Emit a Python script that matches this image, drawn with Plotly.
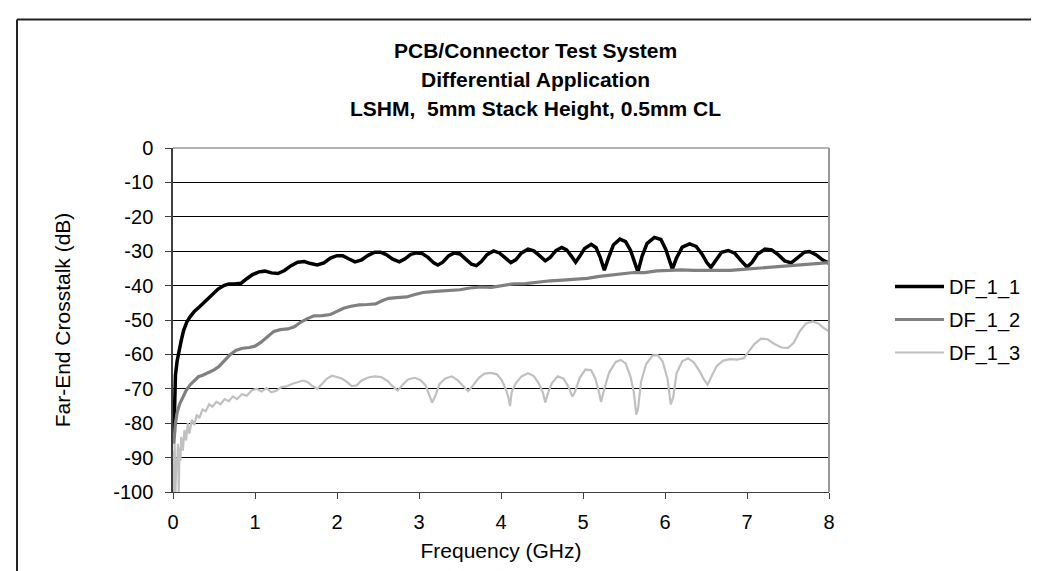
import plotly.graph_objects as go

# ---------------- data ----------------
df11_f = [0.01, 0.02, 0.03, 0.05, 0.07, 0.10, 0.13, 0.17, 0.21, 0.26, 0.33, 0.40, 0.48, 0.55,
          0.62, 0.68, 0.75, 0.83, 0.90, 0.97, 1.05, 1.12, 1.20, 1.28, 1.36, 1.44, 1.52, 1.60,
          1.68, 1.76, 1.84, 1.92, 2.00, 2.07, 2.14, 2.22, 2.30, 2.38, 2.46, 2.53, 2.60, 2.68,
          2.76, 2.83, 2.90, 2.97, 3.04, 3.11, 3.18, 3.23, 3.29, 3.36, 3.43, 3.50, 3.57, 3.64,
          3.70, 3.76, 3.83, 3.91, 3.98, 4.05, 4.12, 4.18, 4.25, 4.33, 4.40, 4.47, 4.54, 4.60,
          4.67, 4.74, 4.80, 4.86, 4.91, 4.96, 5.02, 5.10, 5.16, 5.21, 5.26, 5.31, 5.37, 5.45,
          5.52, 5.58, 5.63, 5.67, 5.72, 5.78, 5.87, 5.95, 6.01, 6.06, 6.09, 6.14, 6.21, 6.30,
          6.38, 6.45, 6.51, 6.56, 6.62, 6.69, 6.77, 6.85, 6.93, 7.00, 7.06, 7.13, 7.22, 7.30,
          7.38, 7.46, 7.54, 7.62, 7.70, 7.76, 7.84, 7.92, 8.00]
df11_db = [-84, -72, -66, -62, -59, -56, -53, -50.5, -49, -47.5, -46, -44.5, -42.5, -41,
           -40, -39.5, -39.5, -39.3, -38, -36.8, -36, -35.8, -36.3, -36.5, -35.6, -34.2, -33.2, -33,
           -33.6, -34, -33.4, -32, -31.3, -31.3, -32.2, -33.1, -32.5, -31.2, -30.3, -30.3, -31, -32.3,
           -33.1, -32.2, -30.9, -30.5, -30.7, -31.8, -33.4, -34, -33.2, -31.4, -30.5, -30.8, -32.3, -33.8,
           -34.2, -33, -31, -29.9, -30.5, -32, -33.3, -32.5, -30.5, -29.4, -29.9, -31.3, -32.8, -31.8,
           -29.8, -28.9, -29.6, -31.5, -33.2, -31.5, -29.2, -28, -29, -31.8, -35.5, -32, -28.2, -26.5,
           -27.2, -29.8, -33.5, -36, -31.5, -27.8, -26, -26.6, -29.5, -33, -35.2, -32, -28.8, -27.9,
           -28.6, -30.8, -33.3, -34.7, -32.6, -30.3, -29.8, -30.6, -32.8, -34.6, -33.3, -30.8, -29.4, -29.6,
           -31, -32.8, -33.4, -31.8, -30.3, -30.1, -31, -32.5, -33.5]

df12_f = [0.01, 0.03, 0.05, 0.08, 0.12, 0.16, 0.21, 0.26, 0.31, 0.37, 0.43, 0.50, 0.56, 0.63,
          0.70, 0.77, 0.85, 0.93, 1.00, 1.07, 1.15, 1.23, 1.31, 1.40, 1.48, 1.56, 1.64, 1.72,
          1.82, 1.92, 2.00, 2.08, 2.17, 2.27, 2.37, 2.47, 2.55, 2.63, 2.73, 2.85, 2.95, 3.05,
          3.20, 3.35, 3.50, 3.62, 3.75, 3.88, 4.00, 4.15, 4.30, 4.45, 4.60, 4.75, 4.90, 5.05,
          5.20, 5.35, 5.50, 5.62, 5.75, 5.90, 6.05, 6.20, 6.35, 6.50, 6.65, 6.80, 6.95, 7.10,
          7.25, 7.40, 7.55, 7.70, 7.85, 8.00]
df12_db = [-86, -80, -77, -74.5, -72.5, -70.5, -68.8, -67.5, -66.5, -66, -65.3, -64.5, -63.5, -61.6,
           -60, -58.8, -58.2, -58, -57.6, -56.5, -54.8, -53.3, -52.8, -52.6, -52, -50.6, -49.6, -48.8,
           -48.7, -48.4, -47.5, -46.6, -46, -45.6, -45.5, -45.3, -44.4, -43.7, -43.5, -43.3, -42.6, -42,
           -41.7, -41.5, -41.2, -40.7, -40.4, -40.5, -40.1, -39.5, -39.4, -38.9, -38.6, -38.4, -38.1, -37.9,
           -37.3, -36.9, -36.5, -36.2, -36.2, -35.7, -35.6, -35.4, -35.6, -35.6, -35.8, -35.6, -35.3, -35,
           -34.8, -34.4, -34, -33.7, -33.6, -33.3]

df13_f = [0.005, 0.01, 0.015, 0.02, 0.03, 0.04, 0.05, 0.06, 0.07, 0.08, 0.09, 0.10, 0.12, 0.14,
          0.16, 0.18, 0.20, 0.23, 0.26, 0.29, 0.32, 0.36, 0.40, 0.44, 0.48, 0.53, 0.58, 0.63,
          0.68, 0.73, 0.78, 0.84, 0.90, 0.96, 1.02, 1.08, 1.14, 1.20, 1.26, 1.32, 1.38, 1.45,
          1.52, 1.58, 1.64, 1.70, 1.76, 1.82, 1.88, 1.94, 2.00, 2.06, 2.12, 2.18, 2.24, 2.30,
          2.38, 2.46, 2.54, 2.62, 2.68, 2.74, 2.80, 2.87, 2.95, 3.02, 3.08, 3.13, 3.16, 3.20,
          3.25, 3.32, 3.40, 3.47, 3.54, 3.60, 3.66, 3.73, 3.80, 3.88, 3.95, 4.01, 4.06, 4.09,
          4.11, 4.13, 4.18, 4.25, 4.33, 4.40, 4.46, 4.51, 4.54, 4.57, 4.62, 4.69, 4.76, 4.82,
          4.87, 4.90, 4.96, 5.03, 5.10, 5.15, 5.19, 5.22, 5.26, 5.32, 5.40, 5.46, 5.52, 5.58,
          5.62, 5.65, 5.67, 5.71, 5.77, 5.85, 5.91, 5.97, 6.03, 6.07, 6.10, 6.14, 6.21, 6.28,
          6.35, 6.42, 6.48, 6.52, 6.57, 6.63, 6.71, 6.80, 6.88, 6.96, 7.02, 7.09, 7.17, 7.25,
          7.33, 7.42, 7.50, 7.57, 7.64, 7.72, 7.80, 7.87, 7.94, 8.00]
df13_db = [-100, -88, -97, -86, -100, -90, -93, -86, -100, -87, -91, -84, -88, -82,
           -85, -80, -83, -79, -80.5, -77.5, -78.5, -76, -76.5, -74.5, -75.2, -73.8, -74.5, -73,
           -73.6, -72.2, -73, -71.6, -72, -70.5, -70, -70.8, -69.8, -71, -70.6, -69.5, -69.3, -68.6,
           -68, -67.6, -68, -69.2, -70, -68.5, -67, -66.2, -66.5, -67, -68, -69.2, -69, -67.6,
           -66.7, -66.4, -66.6, -67.8, -69.3, -70.5, -68.8, -67.2, -66.8, -67.5, -69, -72, -74, -72,
           -68.6, -67, -66.4, -67.5, -69.2, -70.7, -69, -66.8, -65.6, -65.4, -65.8, -67.5, -70.2, -72.5,
           -75, -71, -68.4, -66.4, -65.5, -66.3, -68.4, -71, -74, -71.5, -68.4, -66.4, -67, -69.3,
           -72.3, -71, -66.8, -64.4, -64.6, -67, -70.5, -73.8, -70, -65.2, -62.2, -61.6, -62.6, -66.5,
           -71, -77.5, -76, -67.8, -62.8, -60.3, -60.2, -62, -67, -74.5, -72.5, -65.6, -62, -61.1,
           -62.3, -64.8, -67.5, -68.8, -66.3, -63.4, -61.8, -61.4, -61.5, -61.1, -59.2, -57, -55.4, -55.6,
           -56.9, -58, -58.1, -56.6, -53.4, -51, -50.4, -51, -52.4, -53.3]

series_names = ["DF_1_1", "DF_1_2", "DF_1_3"]
y_ticks = [0, -10, -20, -30, -40, -50, -60, -70, -80, -90, -100]
x_ticks = [0, 1, 2, 3, 4, 5, 6, 7, 8]
title_lines = ["PCB/Connector Test System", "Differential Application",
               "LSHM,  5mm Stack Height, 0.5mm CL"]

# ---------------- figure ----------------
FONT = "Liberation Sans, Arial, sans-serif"

fig = go.Figure()
styles = [dict(color="#000000", width=3.5),
          dict(color="#808080", width=3.2),
          dict(color="#C0C0C0", width=2.2)]
for name, xs, ys, st in zip(series_names, [df11_f, df12_f, df13_f],
                            [df11_db, df12_db, df13_db], styles):
    fig.add_trace(go.Scatter(x=xs, y=ys, mode="lines", name=name, line=st,
                             legendgroup=name))

W, H = 1039, 571
L, R, T, B = 165, 218, 140, 87
plot_h = H - T - B
plot_w = W - L - R

def px2paper_x(px):
    return (px - L) / plot_w

def px2paper_y(py):
    return (H - B - py) / plot_h

annotations = []
for line, py in zip(title_lines, [43, 71, 100]):
    annotations.append(dict(text="<b>%s</b>" % line, xref="paper", yref="paper",
                            x=px2paper_x(527), y=px2paper_y(py), xanchor="center",
                            yanchor="middle", showarrow=False,
                            font=dict(family=FONT, size=21, color="black")))

shapes = [
    # outer chart frame (left and top edges visible)
    dict(type="line", xref="paper", yref="paper", x0=px2paper_x(9), x1=px2paper_x(9),
         y0=px2paper_y(H + 20), y1=px2paper_y(11.5), line=dict(color="#222222", width=2)),
    dict(type="line", xref="paper", yref="paper", x0=px2paper_x(9), x1=px2paper_x(W + 20),
         y0=px2paper_y(11.5), y1=px2paper_y(11.5), line=dict(color="#222222", width=2)),
    # plot-area border (top and right, gray)
    dict(type="line", xref="paper", yref="paper", x0=0, x1=1, y0=1, y1=1,
         line=dict(color="#999999", width=1.5), layer="above"),
    dict(type="line", xref="paper", yref="paper", x0=1, x1=1, y0=0, y1=1,
         line=dict(color="#999999", width=2), layer="above"),
]

fig.update_layout(
    width=W, height=H, autosize=False,
    margin=dict(l=L, r=R, t=T, b=B, pad=0),
    paper_bgcolor="white", plot_bgcolor="white",
    font=dict(family=FONT, size=20, color="black"),
    showlegend=True,
    legend=dict(x=px2paper_x(882), y=px2paper_y(259), xanchor="left", yanchor="top",
                font=dict(family=FONT, size=20, color="black"),
                bgcolor="rgba(0,0,0,0)", traceorder="grouped", tracegroupgap=4,
                itemwidth=49),
    annotations=annotations,
    shapes=shapes,
    xaxis=dict(range=[0, 8], tickvals=x_ticks, ticktext=[str(v) for v in x_ticks],
               ticks="outside", ticklen=6, tickwidth=1, tickcolor="#404040",
               showline=True, linecolor="#404040", linewidth=1,
               showgrid=False, zeroline=False, ticklabelstandoff=6,
               title=dict(text="Frequency (GHz)", standoff=11,
                          font=dict(family=FONT, size=21))),
    yaxis=dict(range=[-100, 0], tickvals=y_ticks, ticktext=[str(v) for v in y_ticks],
               ticks="outside", ticklen=6, tickwidth=1, tickcolor="#404040",
               showline=True, linecolor="#404040", linewidth=1.5,
               showgrid=True, gridcolor="#000000", gridwidth=1,
               zeroline=False, ticklabelstandoff=8,
               title=dict(text="Far-End Crosstalk (dB)", standoff=37,
                          font=dict(family=FONT, size=21))),
)

fig.write_html("out.html")
